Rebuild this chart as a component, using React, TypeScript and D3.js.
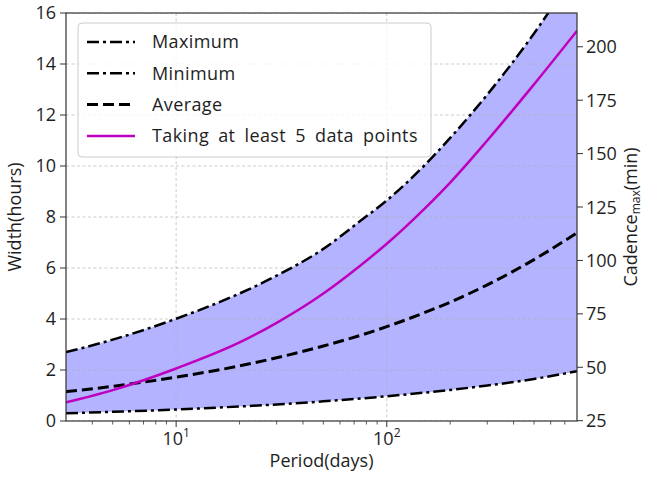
import React from 'react';
import * as d3 from 'd3';

// periods (days) and widths (hours)
const periods = [3, 5, 10, 20, 30, 50, 75, 100, 150, 200, 300, 500, 800];
const maxWidth = [2.7, 3.19, 4.01, 5.0, 5.7, 6.75, 7.85, 8.65, 10.0, 11.1, 12.8, 15.2, 17.7];
const minWidth = [0.3, 0.36, 0.45, 0.57, 0.65, 0.77, 0.88, 0.97, 1.11, 1.22, 1.39, 1.65, 1.95];
const avgWidth = [1.15, 1.36, 1.72, 2.16, 2.48, 2.94, 3.36, 3.7, 4.24, 4.66, 5.34, 6.33, 7.38];
const fivePoints = [0.73, 1.21, 2.06, 3.08, 3.85, 5.0, 6.1, 6.95, 8.3, 9.35, 11.0, 13.2, 15.3];

const leftTicks = [0, 2, 4, 6, 8, 10, 12, 14, 16];
const rightTicks = [25, 50, 75, 100, 125, 150, 175, 200];
const xMajor = [10, 100];
const xMinor = [4, 5, 6, 7, 8, 9, 20, 30, 40, 50, 60, 70, 80, 90, 200, 300, 400, 500, 600, 700];

const legendItems = [
  { label: 'Maximum', color: '#000', dash: '12,4,3,4', w: 2.5 },
  { label: 'Minimum', color: '#000', dash: '12,4,3,4', w: 2.5 },
  { label: 'Average', color: '#000', dash: '11,5', w: 3 },
  { label: 'Taking at least 5 data points', color: '#bf00bf', dash: null, w: 2.5 },
];

const W = 646;
const H = 480;
const L = 66, R = 577, T = 13, B = 421;
const font = '"Open Sans", Lato, "DejaVu Sans", sans-serif';
const ink = '#1e1e1e';

export default function App() {
  const x = d3.scaleLog().domain([3, 800]).range([L, R]);
  const y = d3.scaleLinear().domain([0, 16]).range([B, T]);
  const y2 = d3.scaleLinear().domain([24.86, 215.8]).range([B, T]);

  const pts = (vals: number[]) => periods.map((p, i) => [p, vals[i]] as [number, number]);
  const line = d3.line<[number, number]>().x(d => x(d[0])).y(d => y(d[1])).curve(d3.curveMonotoneX);
  const area = d3.area<number>()
    .x((_, i) => x(periods[i]))
    .y0((_, i) => y(minWidth[i]))
    .y1(d => y(d))
    .curve(d3.curveMonotoneX);

  return (
    <svg width={W} height={H} style={{ position: 'absolute', left: 0, top: 0, background: '#fff' }} fontFamily={font}>
      <defs>
        <clipPath id="plot">
          <rect x={L} y={T} width={R - L} height={B - T} />
        </clipPath>
      </defs>
      <g clipPath="url(#plot)">
        <path d={area(maxWidth) || ''} fill="#b3b3ff" />
        {leftTicks.map(t => (
          <line key={'g' + t} x1={L} x2={R} y1={y(t)} y2={y(t)} stroke="#b0b0b0" strokeWidth={0.8} strokeDasharray="3,2.5" opacity={0.8} />
        ))}
        {xMajor.map(t => (
          <line key={'gx' + t} x1={x(t)} x2={x(t)} y1={T} y2={B} stroke="#b0b0b0" strokeWidth={0.8} strokeDasharray="3,2.5" opacity={0.8} />
        ))}
        <path d={line(pts(maxWidth)) || ''} fill="none" stroke="#000" strokeWidth={2.5} strokeDasharray="12,4,3,4" />
        <path d={line(pts(minWidth)) || ''} fill="none" stroke="#000" strokeWidth={2.5} strokeDasharray="12,4,3,4" />
        <path d={line(pts(avgWidth)) || ''} fill="none" stroke="#000" strokeWidth={3} strokeDasharray="11,5" />
        <path d={line(pts(fivePoints)) || ''} fill="none" stroke="#bf00bf" strokeWidth={2.5} />
      </g>

      {/* frame */}
      <rect x={L} y={T} width={R - L} height={B - T} fill="none" stroke="#333" strokeWidth={1.2} />

      {/* left axis */}
      {leftTicks.map(t => (
        <g key={'l' + t}>
          <line x1={L - 6} x2={L} y1={y(t)} y2={y(t)} stroke="#333" strokeWidth={1} />
          <text x={L - 10} y={y(t)} dy="0.36em" textAnchor="end" fontSize={18} fill={ink}>{t}</text>
        </g>
      ))}
      {/* right axis */}
      {rightTicks.map(t => (
        <g key={'r' + t}>
          <line x1={R} x2={R + 6} y1={y2(t)} y2={y2(t)} stroke="#333" strokeWidth={1} />
          <text x={R + 9} y={y2(t)} dy="0.36em" textAnchor="start" fontSize={18} fill={ink}>{t}</text>
        </g>
      ))}
      {/* bottom axis */}
      {xMajor.map(t => (
        <g key={'x' + t}>
          <line x1={x(t)} x2={x(t)} y1={B} y2={B + 6} stroke="#333" strokeWidth={1} />
          <text x={x(t)} y={B + 24} textAnchor="middle" fontSize={18} fill={ink}>
            10<tspan fontSize={12} dy={-8}>{Math.round(Math.log10(t))}</tspan>
          </text>
        </g>
      ))}
      {xMinor.map(t => (
        <line key={'m' + t} x1={x(t)} x2={x(t)} y1={B} y2={B + 3.5} stroke="#333" strokeWidth={0.8} />
      ))}

      {/* axis labels */}
      <text x={(L + R) / 2} y={467} textAnchor="middle" fontSize={18} fill={ink}>Period(days)</text>
      <text transform={`translate(21,${(T + B) / 2}) rotate(-90)`} textAnchor="middle" fontSize={18} fill={ink}>Width(hours)</text>
      <text transform={`translate(637,${(T + B) / 2}) rotate(-90)`} textAnchor="middle" fontSize={18} fill={ink}>
        Cadence<tspan fontSize={12} dy={3}>max</tspan><tspan dy={-3}>(min)</tspan>
      </text>

      {/* legend */}
      <rect x={78} y={23} width={353} height={134} rx={4} fill="#fff" fillOpacity={0.8} stroke="#ccc" strokeWidth={1} />
      {legendItems.map((d, i) => {
        const ly = 42 + i * 31.3;
        return (
          <g key={d.label}>
            <line x1={87} x2={135} y1={ly} y2={ly} stroke={d.color} strokeWidth={d.w} strokeDasharray={d.dash || undefined} />
            <text x={152} y={ly} dy="0.36em" fontSize={18} fill={ink} letterSpacing={0.4} wordSpacing={4}>{d.label}</text>
          </g>
        );
      })}
    </svg>
  );
}
